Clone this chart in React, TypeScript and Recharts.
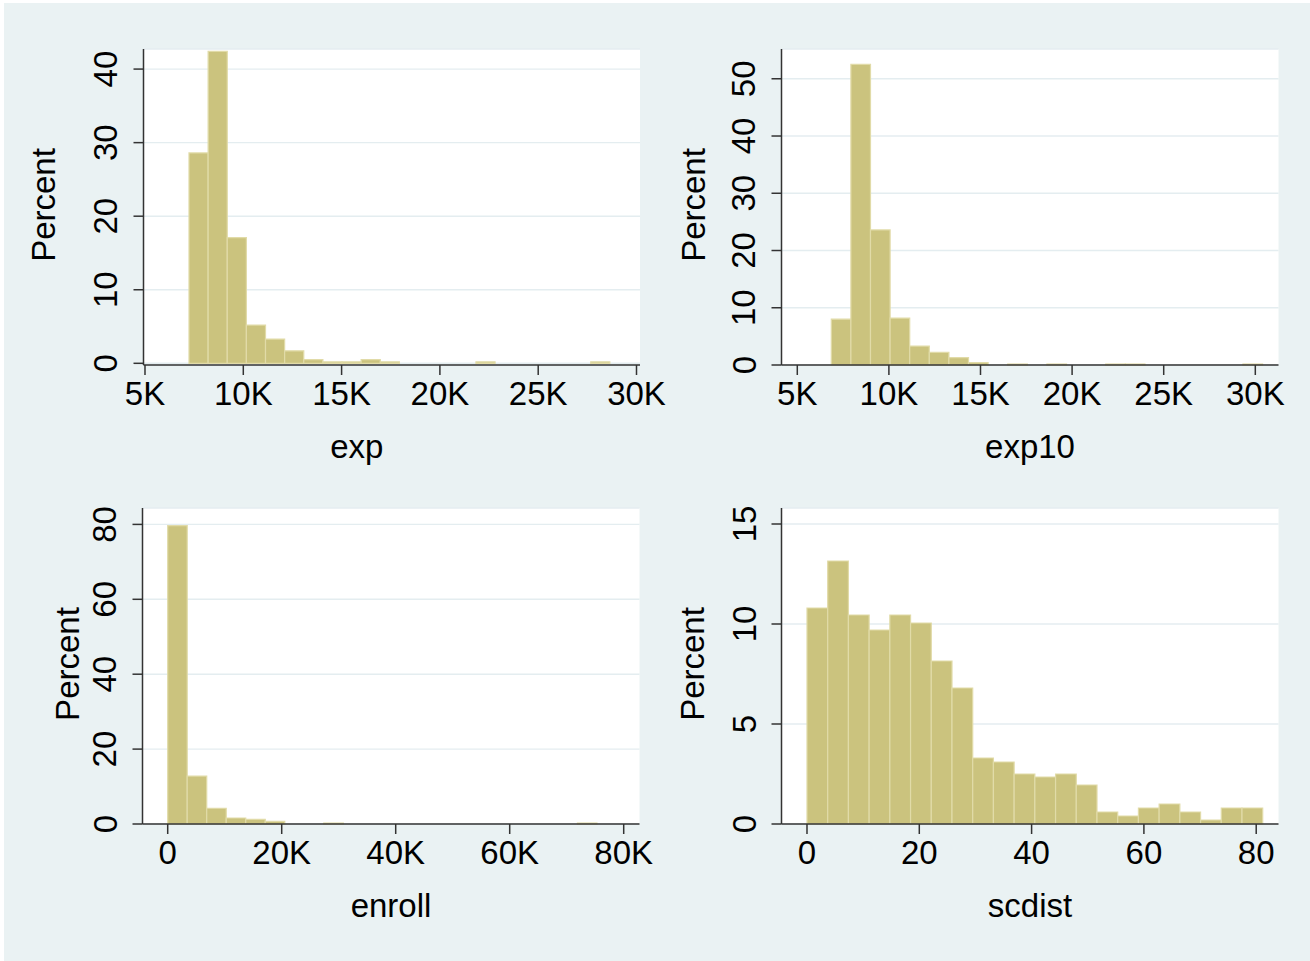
import { ComposedChart, XAxis, YAxis, CartesianGrid, ReferenceArea, Label } from 'recharts';

const FONT = '"Liberation Sans", Arial, Helvetica, sans-serif';
const PAGE_BG = '#EAF2F3';
const GRID = '#E4EDF0';
const AXIS = '#333333';
const BAR_FILL = '#CBC37E';
const BAR_EDGE = '#E1DBA8';

// exp: bins of equal width starting at expStart
const expStart = 7238;
const expWidth = 973;
const expPercent = [28.6, 42.4, 17.1, 5.2, 3.3, 1.7, 0.5, 0.2, 0.2, 0.5, 0.2, 0, 0, 0, 0, 0.2, 0, 0, 0, 0, 0, 0.2];
const expTicks = [5000, 10000, 15000, 20000, 25000, 30000];
const expPctTicks = [0, 10, 20, 30, 40];

// exp10
const exp10Start = 6856;
const exp10Width = 1070;
const exp10Percent = [8.0, 52.5, 23.6, 8.2, 3.3, 2.2, 1.3, 0.4, 0, 0.17, 0, 0.17, 0, 0, 0.17, 0.17, 0, 0, 0, 0, 0, 0.17];
const exp10Ticks = [5000, 10000, 15000, 20000, 25000, 30000];
const exp10PctTicks = [0, 10, 20, 30, 40, 50];

// enroll
const enrollStart = 0;
const enrollWidth = 3423;
const enrollPercent = [79.7, 12.8, 4.2, 1.6, 1.25, 0.7, 0, 0, 0.25, 0, 0, 0, 0, 0, 0, 0, 0, 0, 0, 0, 0, 0.25];
const enrollTicks = [0, 20000, 40000, 60000, 80000];
const enrollPctTicks = [0, 20, 40, 60, 80];

// scdist
const scdistStart = 0;
const scdistWidth = 3.689;
const scdistPercent = [10.8, 13.15, 10.45, 9.7, 10.45, 10.05, 8.15, 6.8, 3.3, 3.1, 2.5, 2.35, 2.5, 1.95, 0.6, 0.4, 0.8, 1.0, 0.6, 0.2, 0.8, 0.8];
const scdistTicks = [0, 20, 40, 60, 80];
const scdistPctTicks = [0, 5, 10, 15];

const kFormat = (v: number) => (v === 0 ? '0' : `${v / 1000}K`);
const plainFormat = (v: number) => String(v);

type Rect = { x0: number; y0: number; x1: number; y1: number };

interface HistProps {
  box: Rect;
  plot: Rect;
  start: number;
  width: number;
  percent: number[];
  xDomain: [number, number];
  yDomain: [number, number];
  xTicks: number[];
  yTicks: number[];
  xFormat: (v: number) => string;
  title: string;
  titleShift?: number;
  percentGap: number;
}

function Histogram({
  box, plot, start, width, percent, xDomain, yDomain, xTicks, yTicks, xFormat, title, titleShift = 0, percentGap,
}: HistProps) {
  const bins = percent.map((pct, i) => ({ lo: start + i * width, hi: start + (i + 1) * width, pct }));
  const w = box.x1 - box.x0;
  const h = box.y1 - box.y0;
  const axisX = plot.x0 - box.x0;
  const axisY = plot.y1 - box.y0;
  const midX = (plot.x0 + plot.x1) / 2 - box.x0;
  const midY = (plot.y0 + plot.y1) / 2 - box.y0 - 2;

  return (
    <div style={{ position: 'absolute', left: box.x0, top: box.y0, width: w, height: h }}>
      <ComposedChart
        width={w}
        height={h}
        data={bins}
        margin={{ top: plot.y0 - box.y0, right: box.x1 - plot.x1, bottom: 0, left: 0 }}
      >
        <CartesianGrid vertical={false} fill="#ffffff" fillOpacity={1} stroke={GRID} strokeWidth={1.4} />
        {bins
          .filter((b) => b.pct > 0)
          .map((b) => (
            <ReferenceArea
              key={b.lo}
              x1={b.lo}
              x2={b.hi}
              y1={0}
              y2={b.pct}
              fill={BAR_FILL}
              fillOpacity={1}
              stroke={BAR_EDGE}
              strokeWidth={1.2}
            />
          ))}
        <XAxis
          type="number"
          dataKey="lo"
          domain={xDomain}
          allowDataOverflow
          ticks={xTicks}
          interval={0}
          height={box.y1 - plot.y1}
          tickSize={10}
          tickMargin={0}
          axisLine={{ stroke: AXIS, strokeWidth: 1.5 }}
          tickLine={{ stroke: AXIS, strokeWidth: 1.5 }}
          tick={(p: any) => (
            <text x={p.x} y={p.y + 29.5} textAnchor="middle" fontFamily={FONT} fontSize={33} fill="#000">
              {xFormat(p.payload.value)}
            </text>
          )}
        >
          <Label
            content={() => (
              <text x={midX + titleShift} y={axisY + 93} textAnchor="middle" fontFamily={FONT} fontSize={33} fill="#000">
                {title}
              </text>
            )}
          />
        </XAxis>
        <YAxis
          type="number"
          domain={yDomain}
          allowDataOverflow
          ticks={yTicks}
          interval={0}
          width={plot.x0 - box.x0}
          tickSize={10}
          tickMargin={0}
          axisLine={{ stroke: AXIS, strokeWidth: 1.5 }}
          tickLine={{ stroke: AXIS, strokeWidth: 1.5 }}
          tick={(p: any) => {
            const cx = p.x - 27.5;
            return (
              <text
                x={cx}
                y={p.y}
                transform={`rotate(-90 ${cx} ${p.y})`}
                textAnchor="middle"
                dominantBaseline="central"
                fontFamily={FONT}
                fontSize={33}
                fill="#000"
              >
                {plainFormat(p.payload.value)}
              </text>
            );
          }}
        >
          <Label
            content={() => {
              const cx = axisX - percentGap;
              return (
                <text
                  x={cx}
                  y={midY}
                  transform={`rotate(-90 ${cx} ${midY})`}
                  textAnchor="middle"
                  dominantBaseline="central"
                  fontFamily={FONT}
                  fontSize={33}
                  fill="#000"
                >
                  Percent
                </text>
              );
            }}
          />
        </YAxis>
      </ComposedChart>
    </div>
  );
}

export default function App() {
  return (
    <div style={{ position: 'absolute', left: 0, top: 0, width: 1310, height: 961, background: '#ffffff', overflow: 'hidden' }}>
      <div style={{ position: 'absolute', left: 4, top: 3, width: 1306, height: 958, background: PAGE_BG }} />
      <Histogram
        box={{ x0: 4, y0: 3, x1: 670, y1: 480 }}
        plot={{ x0: 143.5, y0: 49, x1: 640, y1: 365 }}
        start={expStart}
        width={expWidth}
        percent={expPercent}
        xDomain={[4924, 30178]}
        yDomain={[-0.23, 42.73]}
        xTicks={expTicks}
        yTicks={expPctTicks}
        xFormat={kFormat}
        title="exp"
        titleShift={-35}
        percentGap={100}
      />
      <Histogram
        box={{ x0: 670, y0: 3, x1: 1306, y1: 480 }}
        plot={{ x0: 781.5, y0: 49, x1: 1278.5, y1: 365 }}
        start={exp10Start}
        width={exp10Width}
        percent={exp10Percent}
        xDomain={[4138, 31266]}
        yDomain={[0, 55.2]}
        xTicks={exp10Ticks}
        yTicks={exp10PctTicks}
        xFormat={kFormat}
        title="exp10"
        percentGap={88}
      />
      <Histogram
        box={{ x0: 4, y0: 480, x1: 670, y1: 958 }}
        plot={{ x0: 142.5, y0: 508, x1: 639.5, y1: 824 }}
        start={enrollStart}
        width={enrollWidth}
        percent={enrollPercent}
        xDomain={[-4421, 82772]}
        yDomain={[0, 84.38]}
        xTicks={enrollTicks}
        yTicks={enrollPctTicks}
        xFormat={kFormat}
        title="enroll"
        percentGap={75}
      />
      <Histogram
        box={{ x0: 670, y0: 480, x1: 1306, y1: 958 }}
        plot={{ x0: 781.5, y0: 508, x1: 1278.5, y1: 824 }}
        start={scdistStart}
        width={scdistWidth}
        percent={scdistPercent}
        xDomain={[-4.54, 83.97]}
        yDomain={[0, 15.8]}
        xTicks={scdistTicks}
        yTicks={scdistPctTicks}
        xFormat={plainFormat}
        title="scdist"
        percentGap={89}
      />
    </div>
  );
}
